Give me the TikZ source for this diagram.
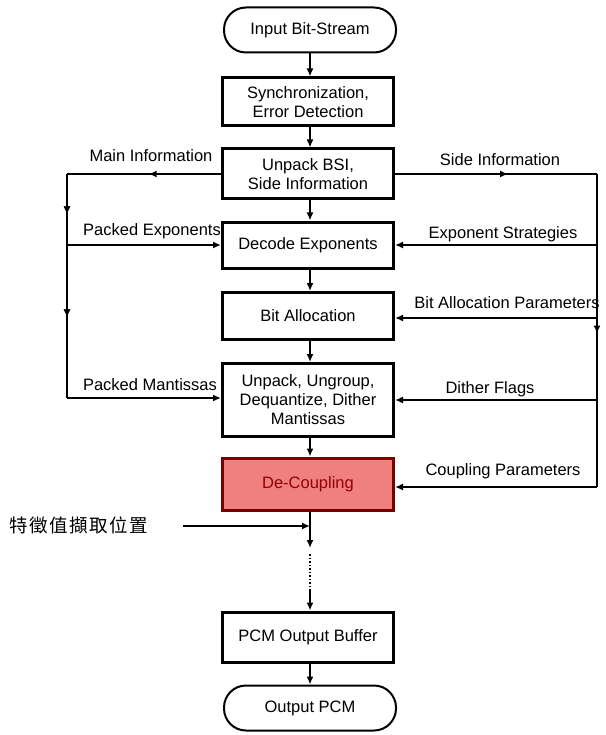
\documentclass[tikz,border=0pt]{standalone}
\usepackage{fontspec}
\setmainfont{Liberation Sans}
\newfontfamily\cjkfont[LetterSpace=8]{Noto Sans CJK TC}
\usetikzlibrary{arrows.meta,decorations.markings}
\definecolor{boxred}{RGB}{240,128,128}
\definecolor{darkred}{RGB}{120,0,0}
\begin{document}
\begin{tikzpicture}[x=1pt,y=-1pt,
  font=\fontsize{16.5}{19}\selectfont,
  tip/.tip={Latex[length=8pt,width=7pt]},
  conn/.style={line width=1.8pt,-tip},
  plain/.style={line width=1.8pt},
  procbox/.style={draw,line width=3pt,minimum width=171pt,align=center,inner sep=2pt},
  termbox/.style={draw,line width=2pt,rounded corners=22pt,minimum width=172pt,minimum height=45pt},
  lbl/.style={inner sep=0pt,anchor=base},
  midmark/.style={postaction={decorate},decoration={markings,mark=at position #1 with {\arrow{tip}}}}
]
\useasboundingbox (0,0) rectangle (605,735);
\fill[white] (0,0) rectangle (605,735);

\node[termbox] (in) at (310,30) {Input Bit-Stream};
\node[procbox,minimum height=48pt] (sync) at (308,102) {Synchronization,\\Error Detection};
\node[procbox,minimum height=50pt] (unp) at (308,174) {Unpack BSI,\\Side Information};
\node[procbox,minimum height=46pt] (dec) at (308,245) {Decode Exponents};
\node[procbox,minimum height=47pt] (bit) at (308,316) {Bit Allocation};
\node[procbox,minimum height=73pt] (mant) at (308,400) {Unpack, Ungroup,\\Dequantize, Dither\\Mantissas};
\node[procbox,minimum height=52pt,fill=boxred,draw=darkred,text=darkred!80!red] (dc) at (308,484) {De-Coupling};
\node[procbox,minimum height=50pt] (pcm) at (308,637) {PCM Output Buffer};
\node[termbox] (out) at (310,708) {Output PCM};

% main column
\draw[conn] (in.south -| 310,0) -- (sync.north -| 310,0);
\draw[conn] (sync.south -| 310,0) -- (unp.north -| 310,0);
\draw[conn] (unp.south -| 310,0) -- (dec.north -| 310,0);
\draw[conn] (dec.south -| 310,0) -- (bit.north -| 310,0);
\draw[conn] (bit.south -| 310,0) -- (mant.north -| 310,0);
\draw[conn] (mant.south -| 310,0) -- (dc.north -| 310,0);
\coordinate (d1) at (310,548);
\coordinate (d2) at (310,554);
\coordinate (d3) at (310,590);
\draw[conn] (dc.south -| 310,0) -- (d1);
\draw[line width=1.5pt,dotted] (d2) -- (d3);
\draw[conn] (d3) -- (pcm.north -| 310,0);
\draw[conn] (pcm.south -| 310,0) -- (out.north -| 310,0);

% feature extraction point
\node[lbl,anchor=west,font=\fontsize{18.5}{21}\selectfont\cjkfont] (cjk) at (9,525) {特徵值擷取位置};
\coordinate (fx) at (183,526);
\draw[conn] (fx) -- (310,526);

% left side
\coordinate (L1) at (67,174);
\coordinate (L2) at (67,398);
\draw[plain,midmark=0.47] (unp.west) -- (L1);
\draw[plain,midmark=0.18,midmark=0.64] (L1) -- (L2);
\draw[conn] (67,245) -- (dec.west);
\draw[conn] (L2) -- (mant.west |- L2);

% right side
\coordinate (R1) at (597,174);
\coordinate (R2) at (597,487);
\draw[plain,midmark=0.56] (unp.east) -- (R1);
\draw[plain,midmark=0.51] (R1) -- (R2);
\draw[conn] (597,245) -- (dec.east);
\draw[conn] (597,318) -- (bit.east |- 0,318);
\draw[conn] (597,400) -- (mant.east);
\draw[conn] (R2) -- (dc.east |- R2);

% labels
\node[lbl] (l1) at (151,162) {Main Information};
\node[lbl] (l2) at (500,166) {Side Information};
\node[lbl] (l3) at (152,235) {Packed Exponents};
\node[lbl] (l4) at (503,238) {Exponent Strategies};
\node[lbl] (l5) at (507,308) {Bit Allocation Parameters};
\node[lbl] (l6) at (150,390) {Packed Mantissas};
\node[lbl] (l7) at (490,393) {Dither Flags};
\node[lbl] (l8) at (503,475) {Coupling Parameters};
\end{tikzpicture}
\end{document}
